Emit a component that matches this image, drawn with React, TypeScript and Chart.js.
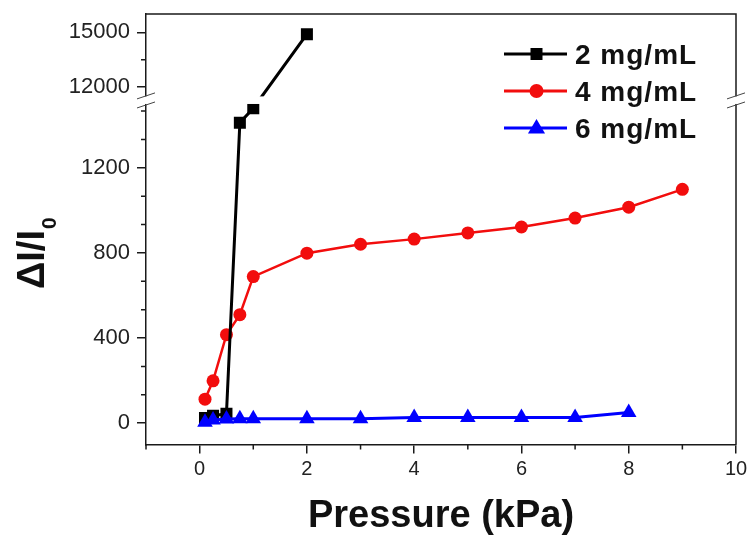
import React, { useEffect, useRef } from 'react';
import { Chart, LinearScale, registerables } from 'chart.js';

// ---- data ----
const PRESSURE_2 = [0.1, 0.25, 0.5, 0.75, 1, 2];
const VALUES_2 = [25, 35, 45, 1412, 1480, 14900];
const PRESSURE_4 = [0.1, 0.25, 0.5, 0.75, 1, 2, 3, 4, 5, 6, 7, 8, 9];
const VALUES_4 = [113, 199, 416, 510, 689, 799, 841, 865, 894, 922, 964, 1015, 1099];
const PRESSURE_6 = [0.1, 0.25, 0.5, 0.75, 1, 2, 3, 4, 5, 6, 7, 8];
const VALUES_6 = [5, 15, 20, 21, 21, 21, 21, 27, 27, 27, 27, 50];
const SERIES_LABELS = ['2 mg/mL', '4 mg/mL', '6 mg/mL'];
const SERIES_COLORS = ['#000000', '#f20d0d', '#0000ff'];
const X_TICKS = [0, 2, 4, 6, 8, 10];
const X_MINOR = [-1, 1, 3, 5, 7, 9];
const Y_TICKS = [0, 400, 800, 1200, 12000, 15000];
const Y_MINOR = [133.33, 266.67, 533.33, 666.67, 933.33, 1066.67, 1333.33, 1466.67, 13500];
const X_RANGE = [-1, 10];
const Y_LOWER = [-100, 1500];
const Y_UPPER = [11500, 16000];
const X_TITLE = 'Pressure (kPa)';
const Y_TITLE_MAIN = 'ΔI/I';
const Y_TITLE_SUB = '0';

// ---- broken axis geometry (fractions of plot height) ----
const LOW_FRAC = 0.791;
const UP_FRAC = 0.1914;
const FONT = "'Liberation Sans', Arial, sans-serif";
const AXIS_COLOR = '#1a1a1a';

class BrokenScale extends LinearScale {
  static id = 'broken';
  static defaults = LinearScale.defaults;
  determineDataLimits() {
    this.min = Y_LOWER[0];
    this.max = Y_UPPER[1];
  }
  buildTicks() {
    return Y_TICKS.map((value) => ({ value }));
  }
  _geom() {
    const b = this.bottom;
    const t = this.top;
    const H = b - t;
    return { b, t, lowTop: b - H * LOW_FRAC, upBot: t + H * UP_FRAC };
  }
  getPixelForValue(value) {
    const { b, t, lowTop, upBot } = this._geom();
    if (value <= Y_LOWER[1]) {
      return b - ((value - Y_LOWER[0]) / (Y_LOWER[1] - Y_LOWER[0])) * (b - lowTop);
    }
    if (value >= Y_UPPER[0]) {
      return upBot - ((value - Y_UPPER[0]) / (Y_UPPER[1] - Y_UPPER[0])) * (upBot - t);
    }
    return lowTop - ((value - Y_LOWER[1]) / (Y_UPPER[0] - Y_LOWER[1])) * (lowTop - upBot);
  }
  getValueForPixel(pixel) {
    const { b, t, lowTop, upBot } = this._geom();
    if (pixel >= lowTop) {
      return Y_LOWER[0] + ((b - pixel) / (b - lowTop)) * (Y_LOWER[1] - Y_LOWER[0]);
    }
    if (pixel <= upBot) {
      return Y_UPPER[0] + ((upBot - pixel) / (upBot - t)) * (Y_UPPER[1] - Y_UPPER[0]);
    }
    return Y_LOWER[1] + ((lowTop - pixel) / (lowTop - upBot)) * (Y_UPPER[0] - Y_LOWER[1]);
  }
}

Chart.register(...registerables, BrokenScale);

function drawMarker(ctx, style, x, y, r, color) {
  ctx.save();
  ctx.fillStyle = color;
  ctx.beginPath();
  if (style === 'rect') {
    ctx.rect(x - r, y - r, 2 * r, 2 * r);
  } else if (style === 'circle') {
    ctx.arc(x, y, r, 0, Math.PI * 2);
  } else {
    ctx.moveTo(x, y - r);
    ctx.lineTo(x + r * 0.95, y + r * 0.6);
    ctx.lineTo(x - r * 0.95, y + r * 0.6);
    ctx.closePath();
  }
  ctx.fill();
  ctx.restore();
}

const decorPlugin = {
  id: 'decor',
  beforeDatasetsDraw(chart) {
    const { ctx, chartArea: a } = chart;
    ctx.save();
    ctx.strokeStyle = AXIS_COLOR;
    ctx.lineWidth = 1.5;
    ctx.beginPath();
    ctx.moveTo(a.left, a.top);
    ctx.lineTo(a.right, a.top);
    ctx.lineTo(a.right, a.bottom);
    ctx.stroke();
    ctx.restore();
  },
  afterDatasetsDraw(chart) {
    const { ctx, chartArea: a } = chart;
    const H = a.bottom - a.top;
    const upBot = a.top + H * UP_FRAC;
    const lowTop = a.bottom - H * LOW_FRAC;
    ctx.save();
    ctx.fillStyle = '#ffffff';
    ctx.fillRect(a.left - 3, upBot, a.right - a.left + 6, lowTop - upBot);
    ctx.strokeStyle = '#444';
    ctx.lineWidth = 1;
    [a.left, a.right].forEach((ax) => {
      [upBot - 0.5, lowTop + 1].forEach((yy) => {
        ctx.beginPath();
        ctx.moveTo(ax - 9, yy + 3);
        ctx.lineTo(ax + 9, yy - 3);
        ctx.stroke();
      });
    });
    ctx.restore();
  },
  afterDraw(chart) {
    const { ctx, chartArea: a } = chart;
    const xs = chart.scales.x;
    const ys = chart.scales.y;
    ctx.save();
    // minor ticks
    ctx.strokeStyle = AXIS_COLOR;
    ctx.lineWidth = 1.5;
    ctx.beginPath();
    X_MINOR.forEach((v) => {
      const px = xs.getPixelForValue(v);
      ctx.moveTo(px, a.bottom);
      ctx.lineTo(px, a.bottom + 5);
    });
    Y_MINOR.forEach((v) => {
      const py = ys.getPixelForValue(v);
      ctx.moveTo(a.left, py);
      ctx.lineTo(a.left - 5, py);
    });
    ctx.stroke();

    // titles
    ctx.fillStyle = '#111';
    ctx.font = `bold 38px ${FONT}`;
    ctx.textAlign = 'center';
    ctx.textBaseline = 'alphabetic';
    ctx.fillText(X_TITLE, (a.left + a.right) / 2, 527);

    ctx.save();
    ctx.translate(44, 289);
    ctx.rotate(-Math.PI / 2);
    ctx.textAlign = 'left';
    ctx.font = `bold 38px ${FONT}`;
    ctx.fillText(Y_TITLE_MAIN, 0, 0);
    const w = ctx.measureText(Y_TITLE_MAIN).width;
    ctx.font = `bold 21px ${FONT}`;
    ctx.fillText(Y_TITLE_SUB, w + 1, 12);
    ctx.restore();

    // legend
    const rows = [54, 91, 128];
    const styles = ['rect', 'circle', 'triangle'];
    const radii = [6, 7, 9];
    SERIES_LABELS.forEach((label, i) => {
      const y = rows[i];
      ctx.strokeStyle = SERIES_COLORS[i];
      ctx.lineWidth = 3;
      ctx.beginPath();
      ctx.moveTo(504, y);
      ctx.lineTo(567, y);
      ctx.stroke();
      drawMarker(ctx, styles[i], 536.5, y, radii[i], SERIES_COLORS[i]);
      ctx.fillStyle = '#111';
      ctx.font = `bold 28px ${FONT}`;
      ctx.textAlign = 'left';
      ctx.textBaseline = 'alphabetic';
      try { ctx.letterSpacing = '1px'; } catch (e) {}
      ctx.fillText(label, 575, y + 10);
      try { ctx.letterSpacing = '0px'; } catch (e) {}
    });
    ctx.restore();
  },
};

function toPoints(xs, ys) {
  return xs.map((x, i) => ({ x, y: ys[i] }));
}

export default function App() {
  const ref = useRef(null);
  useEffect(() => {
    document.body.style.margin = '0';
    const chart = new Chart(ref.current, {
      type: 'line',
      data: {
        datasets: [
          {
            label: SERIES_LABELS[0],
            data: toPoints(PRESSURE_2, VALUES_2),
            borderColor: SERIES_COLORS[0],
            backgroundColor: SERIES_COLORS[0],
            borderWidth: 3,
            pointStyle: 'rect',
            pointRadius: 8.5,
            pointBorderWidth: 0,
            order: 1,
          },
          {
            label: SERIES_LABELS[1],
            data: toPoints(PRESSURE_4, VALUES_4),
            borderColor: SERIES_COLORS[1],
            backgroundColor: SERIES_COLORS[1],
            borderWidth: 2.5,
            pointStyle: 'circle',
            pointRadius: 6.5,
            pointBorderWidth: 0,
            order: 2,
          },
          {
            label: SERIES_LABELS[2],
            data: toPoints(PRESSURE_6, VALUES_6),
            borderColor: SERIES_COLORS[2],
            backgroundColor: SERIES_COLORS[2],
            borderWidth: 3,
            pointStyle: 'triangle',
            pointRadius: 9,
            pointBorderWidth: 0,
            order: 0,
          },
        ],
      },
      options: {
        animation: false,
        responsive: false,
        devicePixelRatio: 1,
        layout: { padding: { top: 14, right: 17, left: 0, bottom: 0 } },
        plugins: { legend: { display: false }, tooltip: { enabled: false } },
        elements: { line: { tension: 0 } },
        scales: {
          x: {
            type: 'linear',
            min: X_RANGE[0],
            max: X_RANGE[1],
            afterBuildTicks: (s) => {
              s.ticks = X_TICKS.map((value) => ({ value }));
            },
            afterFit: (s) => {
              s.height = 96.5;
              s.paddingLeft = 0;
              s.paddingRight = 0;
            },
            grid: {
              drawOnChartArea: false,
              tickLength: 9,
              color: AXIS_COLOR,
              lineWidth: 1.5,
            },
            border: { color: AXIS_COLOR, width: 1.5 },
            ticks: {
              autoSkip: false,
              maxRotation: 0,
              padding: 4,
              color: '#222',
              font: { family: FONT, size: 20 },
              callback: (v) => String(v),
            },
          },
          y: {
            type: 'broken',
            afterFit: (s) => {
              s.width = 146;
              s.paddingTop = 0;
              s.paddingBottom = 0;
            },
            grid: {
              drawOnChartArea: false,
              tickLength: 9,
              color: AXIS_COLOR,
              lineWidth: 1.5,
            },
            border: { color: AXIS_COLOR, width: 1.5 },
            ticks: {
              autoSkip: false,
              padding: 7,
              color: '#222',
              font: { family: FONT, size: 22 },
              callback: (v) => String(v),
            },
          },
        },
      },
      plugins: [decorPlugin],
    });
    return () => chart.destroy();
  }, []);
  return <canvas ref={ref} width={753} height={541} style={{ display: 'block' }} />;
}
